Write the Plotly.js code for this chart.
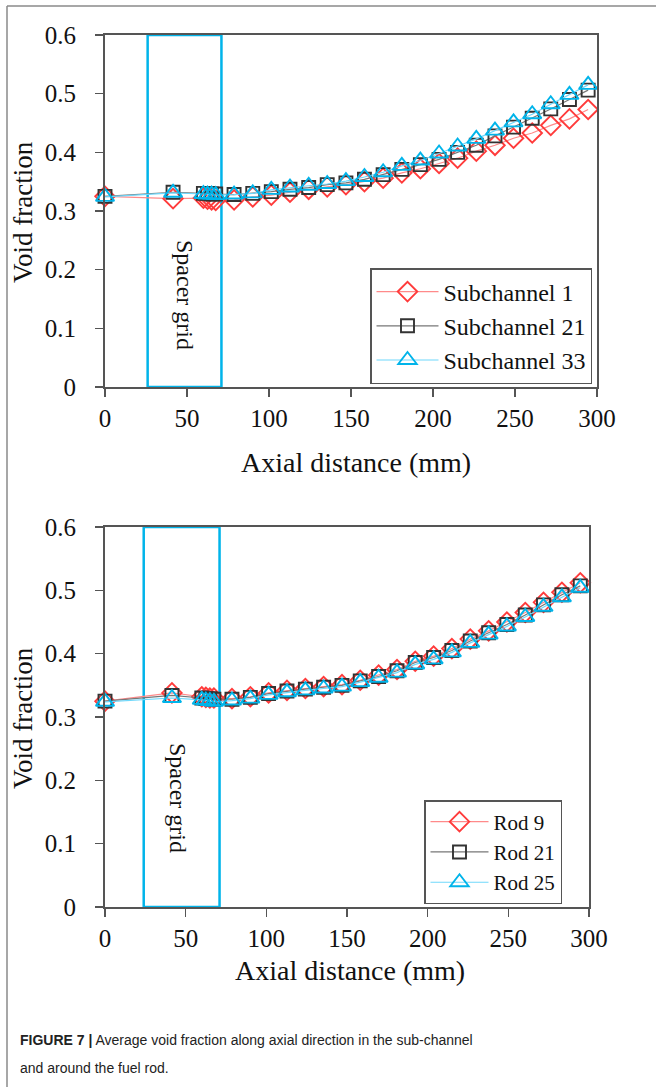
<!DOCTYPE html>
<html>
<head>
<meta charset="utf-8">
<script src="https://cdn.plot.ly/plotly-3.0.1.min.js"></script>
<style>
html,body{margin:0;padding:0;background:#fff;}
#chart{width:656px;height:1087px;}
</style>
</head>
<body>
<div id="chart"></div>
<script>
// ---------- data ----------
const axialDistance = [0, 41.5, 60, 62.5, 65, 67.5, 78.7, 90.1, 101.4, 112.8, 124.2, 135.5, 146.9, 158.2, 169.6, 181.0, 192.3, 203.7, 215.0, 226.4, 237.8, 249.1, 260.5, 271.8, 283.2, 294.6];

const subchannel1  = [0.325, 0.321, 0.322, 0.320, 0.319, 0.318, 0.319, 0.324, 0.327, 0.332, 0.337, 0.341, 0.345, 0.350, 0.356, 0.365, 0.372, 0.381, 0.390, 0.402, 0.412, 0.424, 0.433, 0.446, 0.457, 0.473];
const subchannel21 = [0.325, 0.332, 0.330, 0.330, 0.329, 0.329, 0.328, 0.330, 0.333, 0.337, 0.340, 0.345, 0.348, 0.354, 0.362, 0.371, 0.379, 0.388, 0.400, 0.412, 0.428, 0.443, 0.458, 0.474, 0.490, 0.506];
const subchannel33 = [0.324, 0.331, 0.329, 0.328, 0.328, 0.327, 0.328, 0.330, 0.336, 0.340, 0.343, 0.346, 0.351, 0.358, 0.366, 0.377, 0.386, 0.398, 0.410, 0.423, 0.437, 0.451, 0.465, 0.482, 0.498, 0.515];

const rod9  = [0.325, 0.338, 0.332, 0.331, 0.330, 0.330, 0.329, 0.332, 0.338, 0.342, 0.345, 0.348, 0.351, 0.358, 0.366, 0.375, 0.388, 0.396, 0.408, 0.423, 0.436, 0.450, 0.465, 0.481, 0.497, 0.512];
const rod21 = [0.325, 0.334, 0.330, 0.329, 0.329, 0.328, 0.328, 0.331, 0.337, 0.341, 0.344, 0.347, 0.350, 0.357, 0.364, 0.373, 0.386, 0.394, 0.405, 0.420, 0.433, 0.446, 0.461, 0.477, 0.493, 0.507];
const rod25 = [0.324, 0.330, 0.327, 0.326, 0.325, 0.324, 0.326, 0.329, 0.335, 0.339, 0.342, 0.345, 0.348, 0.355, 0.362, 0.370, 0.383, 0.391, 0.402, 0.417, 0.430, 0.443, 0.458, 0.474, 0.489, 0.504];

const xTicks = [0, 50, 100, 150, 200, 250, 300];
const yTicks = [0, 0.1, 0.2, 0.3, 0.4, 0.5, 0.6];
const spacerGridTop = [26, 71];
const spacerGridBottom = [24, 71];

const seriesTop = ["Subchannel 1", "Subchannel 21", "Subchannel 33"];
const seriesBottom = ["Rod 9", "Rod 21", "Rod 25"];

// ---------- styles ----------
const W = 656, H = 1087;
const px = v => v / W;
const py = v => 1 - v / H;
const serif = "Liberation Serif, Times New Roman, serif";
const sans = "Liberation Sans, Arial, sans-serif";

const styles = [
  {symbol: "diamond", size: 15, lineColor: "#ff8a8a", markColor: "#ff3b3b"},
  {symbol: "square", size: 13, lineColor: "#777777", markColor: "#333333"},
  {symbol: "triangle-up", size: 16, lineColor: "#6fd8fb", markColor: "#00b4ea"}
];

function mk(name, y, idx, xa, ya, leg) {
  const s = styles[idx];
  return {
    type: "scatter", mode: "lines+markers", name: name,
    x: axialDistance, y: y, xaxis: xa, yaxis: ya, legend: leg,
    cliponaxis: false,
    line: {color: s.lineColor, width: 1.2},
    marker: {symbol: s.symbol, size: s.size, color: "rgba(0,0,0,0)",
             line: {color: s.markColor, width: 1.9}}
  };
}

const data = [
  mk(seriesTop[0], subchannel1, 0, "x", "y", "legend"),
  mk(seriesTop[1], subchannel21, 1, "x", "y", "legend"),
  mk(seriesTop[2], subchannel33, 2, "x", "y", "legend"),
  mk(seriesBottom[0], rod9, 0, "x2", "y2", "legend2"),
  mk(seriesBottom[1], rod21, 1, "x2", "y2", "legend2"),
  mk(seriesBottom[2], rod25, 2, "x2", "y2", "legend2")
];

const axisCommon = {
  showline: true, mirror: true, linecolor: "#555", linewidth: 2,
  ticks: "outside", ticklen: 8, tickwidth: 1.5, tickcolor: "#555",
  showgrid: false, zeroline: false, fixedrange: true,
  tickfont: {family: serif, size: 25, color: "#111"}
};

const xTop = Object.assign({}, axisCommon, {domain: [px(105), px(597)], range: [0, 300], tickvals: xTicks, anchor: "y", ticklabelstandoff: 0});
const yTop = Object.assign({}, axisCommon, {domain: [py(387), py(35)], range: [0, 0.6], tickvals: yTicks, anchor: "x", ticklabelstandoff: 14});
const xBot = Object.assign({}, axisCommon, {domain: [px(105), px(589)], range: [0, 300], tickvals: xTicks, anchor: "y2", ticklabelstandoff: 0});
const yBot = Object.assign({}, axisCommon, {domain: [py(907), py(527)], range: [0, 0.6], tickvals: yTicks, anchor: "x2", ticklabelstandoff: 14});

const legendCommon = {
  bgcolor: "#fff", bordercolor: "#555", borderwidth: 1.5,
  font: {family: serif, size: 24, color: "#111"},
  xanchor: "left", yanchor: "top", itemwidth: 62, tracegroupgap: 0
};

const annText = (text, x, y, size, angle, extra) => Object.assign({
  text: text, xref: "paper", yref: "paper", x: x, y: y,
  showarrow: false, textangle: angle || 0,
  font: {family: serif, size: size, color: "#111"},
  xanchor: "center", yanchor: "middle"
}, extra || {});

const layout = {
  width: W, height: H,
  margin: {l: 0, r: 0, t: 0, b: 0},
  paper_bgcolor: "#fff", plot_bgcolor: "#fff",
  showlegend: true,
  xaxis: xTop, yaxis: yTop, xaxis2: xBot, yaxis2: yBot,
  legend: Object.assign({}, legendCommon, {x: px(370), y: py(268)}),
  legend2: Object.assign({}, legendCommon, {x: px(424), y: py(800), itemwidth: 58,
                          font: {family: serif, size: 21, color: "#111"}}),
  shapes: [
    {type: "rect", xref: "x", yref: "y", x0: spacerGridTop[0], x1: spacerGridTop[1], y0: 0, y1: 0.6,
     line: {color: "#00b4ea", width: 2.5}, layer: "below"},
    {type: "rect", xref: "x2", yref: "y2", x0: spacerGridBottom[0], x1: spacerGridBottom[1], y0: 0, y1: 0.6,
     line: {color: "#00b4ea", width: 2.5}, layer: "below"},
    {type: "line", xref: "paper", yref: "paper", x0: px(7), x1: 1, y0: py(6), y1: py(6),
     line: {color: "#8a8a8a", width: 1.5}},
    {type: "line", xref: "paper", yref: "paper", x0: px(7), x1: px(7), y0: py(6), y1: 0,
     line: {color: "#8a8a8a", width: 1.5}}
  ],
  annotations: [
    annText("Void fraction", px(23), py(212), 27, -90),
    annText("Void fraction", px(23), py(718), 27, -90),
    annText("Axial distance (mm)", px(356), py(462), 28, 0),
    annText("Axial distance (mm)", px(350), py(970), 28, 0),
    annText("Spacer grid", px(185), py(295), 24, 90),
    annText("Spacer grid", px(178), py(798), 24, 90),
    annText("<b>FIGURE 7 |</b> Average void fraction along axial direction in the sub-channel",
            px(18), py(1040), 14, 0,
            {xanchor: "left", font: {family: sans, size: 14, color: "#222"}}),
    annText("and around the fuel rod.",
            px(18), py(1068), 14, 0,
            {xanchor: "left", font: {family: sans, size: 14, color: "#222"}})
  ]
};

Plotly.newPlot("chart", data, layout, {displayModeBar: false, staticPlot: true});
</script>
</body>
</html>
